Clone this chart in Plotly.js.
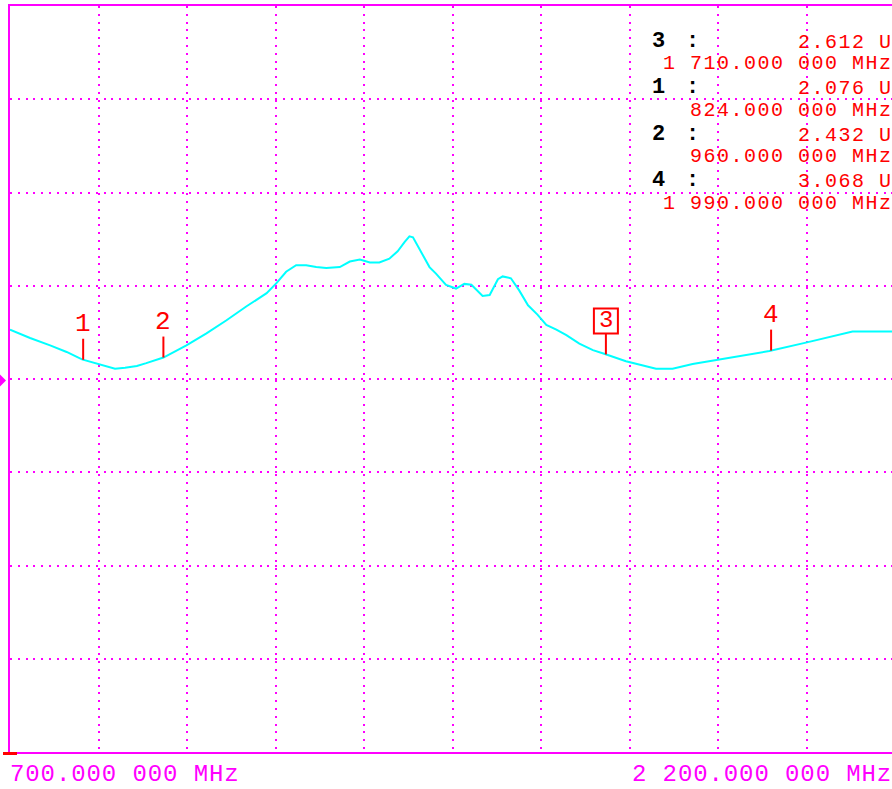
<!DOCTYPE html>
<html><head><meta charset="utf-8">
<script src="https://cdn.plot.ly/plotly-3.0.1.min.js"></script>
<style>html,body{margin:0;padding:0;overflow:hidden;background:#fff}</style>
</head><body><div id="chart" style="width:900px;height:789px"></div>
<script>
// ---- data (frequency in MHz, trace value in divisions from bottom) ----
const freqMHz = [700,734,768,796,822,850,878,895,915,931,960,999,1033,1067,1101,1135,1152,1168,1185,1202,1219,1236,1259,1276,1293,1310,1326,1343,1357,1369,1377,1383,1394,1411,1422,1439,1456,1470,1482,1501,1513,1527,1535,1549,1563,1578,1594,1609,1626,1643,1665,1688,1707,1744,1795,1823,1857,1896,1947,1987,2049,2083,2128,2193,2200];
const traceVal = [4.53,4.44,4.36,4.29,4.21,4.16,4.11,4.12,4.14,4.17,4.23,4.36,4.49,4.63,4.78,4.92,5.03,5.15,5.22,5.22,5.20,5.19,5.20,5.26,5.28,5.25,5.25,5.29,5.37,5.47,5.53,5.52,5.40,5.20,5.13,5.01,4.97,5.02,5.01,4.89,4.90,5.07,5.10,5.08,4.95,4.79,4.69,4.58,4.53,4.47,4.38,4.31,4.27,4.19,4.11,4.11,4.16,4.20,4.26,4.30,4.39,4.44,4.51,4.51,4.51];
const markerNames = ['1','2','3','4'];
const markerFreqs = [824, 960, 1710, 1990];
const activeMarker = '3';
const readoutNames = ['3','1','2','4'];
const readoutValues = ['2.612','2.076','2.432','3.068'];
const readoutFreqs = [1710, 824, 960, 1990];
const startFreq = 700, stopFreq = 2200;
const unitLabel = 'U';

// ---- layout geometry ----
const W = 900, H = 789, L = 10, R = 5, T = 6, B = 37;
const pw = W - L - R, ph = H - T - B;
const PX = px => (px - L) / pw;
const PY = py => (H - B - py) / ph;
const MAG = '#ff00ff', RED = '#ff0000', CYAN = '#00ffff';
const MONO = '"Liberation Mono", "DejaVu Sans Mono", monospace';
const ADV = 13.5, TEXT_END = 890;

function fmtFreq(mhz) {
  const ip = Math.floor(mhz);
  let s = String(ip);
  if (ip >= 1000) s = s.slice(0, s.length - 3) + ' ' + s.slice(-3);
  return s + '.000 000 MHz';
}
function interp(f) {
  for (let i = 0; i < freqMHz.length - 1; i++) {
    if (f >= freqMHz[i] && f <= freqMHz[i + 1]) {
      const t = (f - freqMHz[i]) / (freqMHz[i + 1] - freqMHz[i]);
      return traceVal[i] + t * (traceVal[i + 1] - traceVal[i]);
    }
  }
  return traceVal[traceVal.length - 1];
}
const sp = (t, s) => '<span style="letter-spacing:' + s + 'px">' + t + '</span>';

const annotations = [];
const shapes = [];

// readout block
readoutNames.forEach((n, i) => {
  const rowY = 42 + i * 46.6;
  annotations.push({xref:'paper', yref:'paper', x:PX(650), y:PY(rowY - 1), xanchor:'left', yanchor:'middle',
    text:n, showarrow:false, font:{family:MONO, size:22, color:'#000', weight:'bold'}});
  annotations.push({xref:'paper', yref:'paper', x:PX(684), y:PY(rowY - 1), xanchor:'left', yanchor:'middle',
    text:':', showarrow:false, font:{family:MONO, size:22, color:'#000', weight:'bold'}});
  const vs = readoutValues[i] + ' ' + unitLabel;
  annotations.push({xref:'paper', yref:'paper', x:PX(TEXT_END - vs.length * ADV), y:PY(rowY), xanchor:'left', yanchor:'middle',
    text:sp(vs, 1.5), showarrow:false, font:{family:MONO, size:20, color:RED}});
  const fs = fmtFreq(readoutFreqs[i]);
  annotations.push({xref:'paper', yref:'paper', x:PX(TEXT_END - fs.length * ADV), y:PY(rowY + 21.5), xanchor:'left', yanchor:'middle',
    text:sp(fs, 1.5), showarrow:false, font:{family:MONO, size:20, color:RED}});
});

// markers on trace
markerNames.forEach((n, i) => {
  const f = markerFreqs[i], v = interp(f);
  shapes.push({type:'line', xref:'x', yref:'y', xsizemode:'pixel', xanchor:f, x0:0, x1:0,
    ysizemode:'pixel', yanchor:v, y0:0, y1:21, line:{color:RED, width:2}});
  if (n === activeMarker) {
    shapes.push({type:'rect', xref:'x', yref:'y', xsizemode:'pixel', xanchor:f, x0:-12, x1:12,
      ysizemode:'pixel', yanchor:v, y0:21, y1:46, line:{color:RED, width:2}, fillcolor:'rgba(0,0,0,0)'});
    annotations.push({x:f, y:v, xref:'x', yref:'y', text:n, showarrow:false, yanchor:'middle', yshift:34,
      font:{family:MONO, size:24, color:RED}});
  } else {
    annotations.push({x:f, y:v, xref:'x', yref:'y', text:n, showarrow:false, yanchor:'bottom', yshift:19,
      font:{family:MONO, size:26, color:RED}});
  }
});

// start / stop labels
annotations.push({xref:'paper', yref:'paper', x:PX(8), y:PY(774), xanchor:'left', yanchor:'middle',
  text:sp(fmtFreq(startFreq), 0.9), showarrow:false, font:{family:MONO, size:24, color:MAG}});
annotations.push({xref:'paper', yref:'paper', x:PX(630), y:PY(774), xanchor:'left', yanchor:'middle',
  text:sp(fmtFreq(stopFreq), 0.9), showarrow:false, font:{family:MONO, size:24, color:MAG}});

// reference arrow and corner tick
shapes.push({type:'path', xref:'paper', yref:'paper',
  path:'M' + PX(0) + ',' + PY(374.5) + ' L' + PX(6) + ',' + PY(380.5) + ' L' + PX(0) + ',' + PY(386.5) + ' Z',
  fillcolor:MAG, line:{color:MAG, width:0}});
shapes.push({type:'line', xref:'paper', yref:'paper', x0:PX(3), x1:PX(17), y0:PY(753.5), y1:PY(753.5),
  line:{color:RED, width:3}});

const axisCommon = {showgrid:true, gridcolor:MAG, gridwidth:2, griddash:'2px,5.8px', showline:true,
  linecolor:MAG, linewidth:2, mirror:true, showticklabels:false, ticks:'', zeroline:false, fixedrange:true};

const data = [{x:freqMHz, y:traceVal, type:'scatter', mode:'lines', line:{color:CYAN, width:2}, hoverinfo:'skip'}];
const layout = {
  width:W, height:H, margin:{l:L, r:R, t:T, b:B}, paper_bgcolor:'#fff', plot_bgcolor:'#fff', showlegend:false,
  xaxis:Object.assign({range:[startFreq, stopFreq], tick0:startFreq, dtick:150}, axisCommon),
  yaxis:Object.assign({range:[0, 8], tick0:0, dtick:1}, axisCommon),
  annotations, shapes
};
Plotly.newPlot('chart', data, layout, {displayModeBar:false, staticPlot:true});
</script></body></html>
